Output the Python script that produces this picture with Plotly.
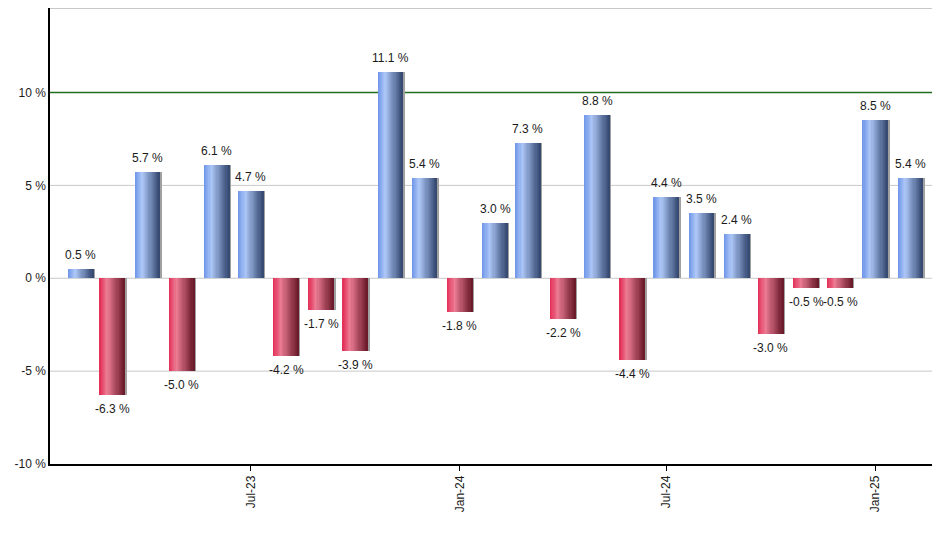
import plotly.graph_objects as go

months = [
    "2023-02-01", "2023-03-01", "2023-04-01", "2023-05-01", "2023-06-01",
    "2023-07-01", "2023-08-01", "2023-09-01", "2023-10-01", "2023-11-01",
    "2023-12-01", "2024-01-01", "2024-02-01", "2024-03-01", "2024-04-01",
    "2024-05-01", "2024-06-01", "2024-07-01", "2024-08-01", "2024-09-01",
    "2024-10-01", "2024-11-01", "2024-12-01", "2025-01-01", "2025-02-01",
]
returns = [
    0.5, -6.3, 5.7, -5.0, 6.1,
    4.7, -4.2, -1.7, -3.9, 11.1,
    5.4, -1.8, 3.0, 7.3, -2.2,
    8.8, -4.4, 4.4, 3.5, 2.4,
    -3.0, -0.5, -0.5, 8.5, 5.4,
]
tick_dates = ["2023-07-01", "2024-01-01", "2024-07-01", "2025-01-01"]
tick_labels = ["Jul-23", "Jan-24", "Jul-24", "Jan-25"]
y_ticks = [-10, -5, 0, 5, 10]
y_labels = ["-10 %", "-5 %", "0 %", "5 %", "10 %"]

DAY = 86400000
bar_w = 22 * DAY
n_strips = 22

# horizontal shading of the bars (position, rgb)
blue_stops = [(0.0, (108, 148, 232)), (0.3, (172, 198, 246)), (1.0, (50, 70, 110))]
red_stops = [(0.0, (226, 44, 84)), (0.3, (236, 124, 148)), (1.0, (104, 24, 40))]


def shade(stops, t):
    for (p0, c0), (p1, c1) in zip(stops, stops[1:]):
        if t <= p1:
            f = (t - p0) / (p1 - p0)
            rgb = [round(a + (b - a) * f) for a, b in zip(c0, c1)]
            return "rgb({},{},{})".format(*rgb)
    return "rgb({},{},{})".format(*stops[-1][1])


fig = go.Figure()

# shadow on the right of each bar
fig.add_trace(go.Bar(
    x=months, y=returns,
    width=bar_w, offset=-bar_w / 2 + 1.6 * DAY,
    marker=dict(color="#a0a0a0", line_width=0),
    hoverinfo="skip", showlegend=False,
))

step = bar_w / n_strips
for i in range(n_strips):
    t = (i + 0.5) / n_strips
    colors = [shade(blue_stops if v >= 0 else red_stops, t) for v in returns]
    fig.add_trace(go.Bar(
        x=months, y=returns,
        width=step * 1.15, offset=-bar_w / 2 + i * step,
        marker=dict(color=colors, line_width=0),
        hoverinfo="skip", showlegend=False,
    ))

# value labels above / below the bars
for m, v in zip(months, returns):
    fig.add_annotation(
        x=m, y=v, text="{:.1f} %".format(v), showarrow=False,
        yanchor="bottom" if v >= 0 else "top",
        yshift=5 if v >= 0 else -5,
        font=dict(family="Liberation Sans, Arial", size=12, color="#1a1a1a"),
    )

# grey gridlines, a green one at 10 %, grey frame line at the top
for g in [-5, 0, 5]:
    fig.add_shape(type="line", xref="paper", x0=0, x1=1, yref="y", y0=g, y1=g,
                  line=dict(color="#c8c8c8", width=1), layer="between")
fig.add_shape(type="line", xref="paper", x0=0, x1=1, yref="y", y0=10, y1=10,
              line=dict(color="#1e6e1e", width=1.3), layer="between")
fig.add_shape(type="line", xref="paper", x0=0, x1=1, yref="paper", y0=1, y1=1,
              line=dict(color="#c8c8c8", width=2), layer="between")

# page body has an 8px margin, so the figure is a bit smaller than the window
fig.update_layout(
    width=932, height=542,
    margin=dict(l=42, r=0, t=0, b=86),
    plot_bgcolor="white", paper_bgcolor="white",
    barmode="overlay", bargap=0,
    font=dict(family="Liberation Sans, Arial", size=12, color="#1a1a1a"),
)
fig.update_xaxes(
    type="date", range=["2023-01-05", "2025-02-27"],
    tickvals=tick_dates, ticktext=tick_labels, tickangle=-90,
    showgrid=False, showline=True, linecolor="black", linewidth=1.5,
    ticks="outside", ticklen=5, tickcolor="black", automargin=False,
)
fig.update_yaxes(
    range=[-10, 14.55], tickvals=y_ticks, ticktext=y_labels,
    showgrid=False, zeroline=False,
    showline=True, linecolor="black", linewidth=1.5, ticks="",
    automargin=False,
)

fig.write_html("out.html")
